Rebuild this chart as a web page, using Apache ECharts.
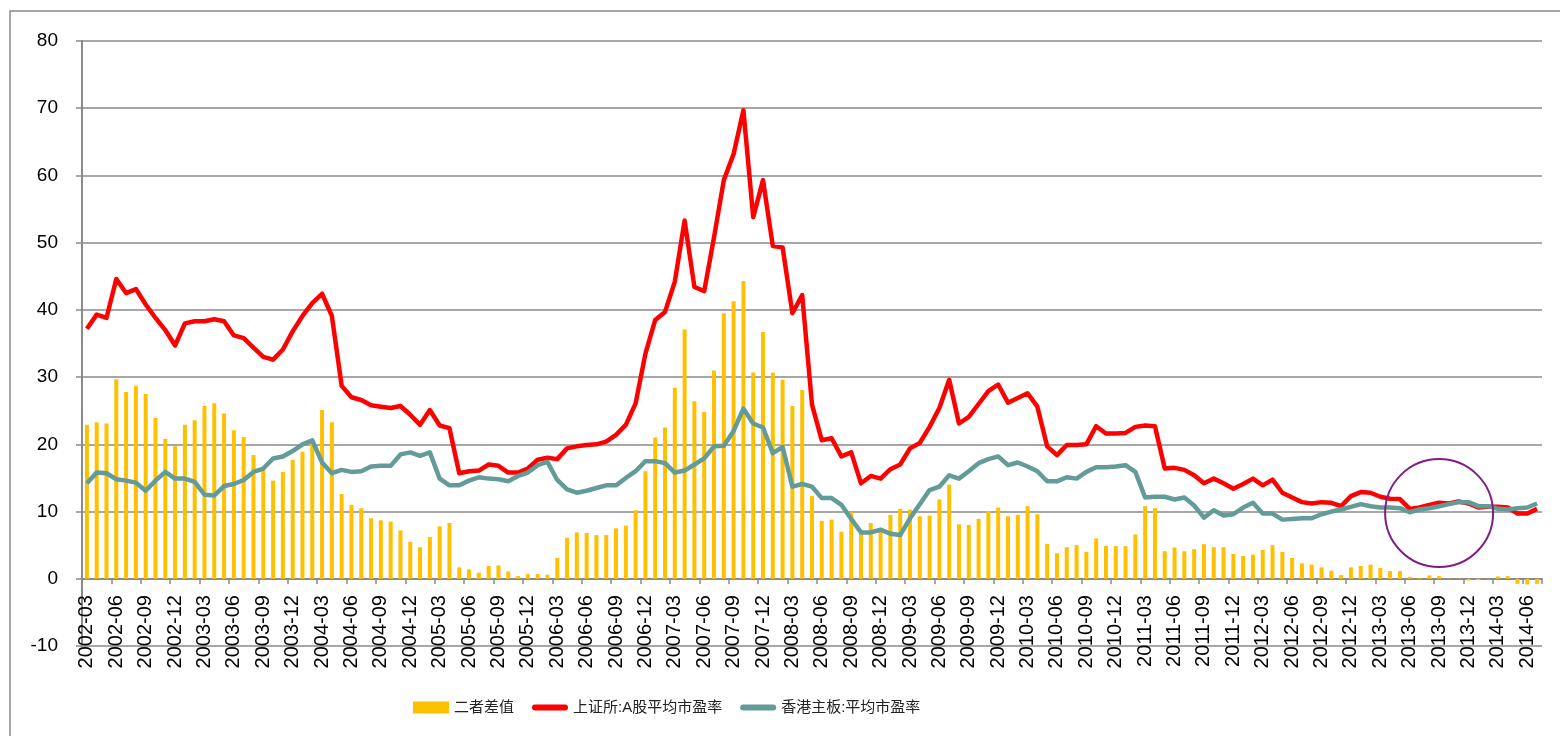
<!DOCTYPE html>
<html>
<head>
<meta charset="utf-8">
<script src="https://cdn.jsdelivr.net/npm/echarts@6/dist/echarts.min.js"></script>
<style>
  html, body { margin: 0; padding: 0; background: #fff; }
  #main { width: 1560px; height: 736px; }
</style>
</head>
<body>
<div id="main"></div>
<script>
// monthly, 2002-03 .. 2014-07
var months = [];
for (var y = 2002; y <= 2014; y++) {
  for (var m = 1; m <= 12; m++) {
    if (y == 2002 && m < 3) continue;
    if (y == 2014 && m > 7) continue;
    months.push(y + '-' + (m < 10 ? '0' + m : m));
  }
}

var yTicks = [-10, 0, 10, 20, 30, 40, 50, 60, 70, 80];

// 上证所:A股平均市盈率
var shPE = [
  37.2, 39.3, 38.8, 44.6, 42.5, 43.1, 40.8, 38.8, 37.0, 34.7, 38.0, 38.3,
  38.3, 38.6, 38.3, 36.2, 35.8, 34.4, 33.0, 32.6, 34.1, 36.8, 39.1, 41.0,
  42.4, 39.1, 28.7, 27.0, 26.6, 25.8, 25.6, 25.4, 25.7, 24.4, 22.9, 25.1,
  22.8, 22.4, 15.7, 16.0, 16.1, 17.0, 16.8, 15.8, 15.8, 16.4, 17.7, 18.0,
  17.8, 19.4, 19.7, 19.9, 20.0, 20.4, 21.4, 22.9, 26.1, 33.5, 38.5, 39.7,
  44.2, 53.3, 43.4, 42.8, 50.8, 59.3, 63.2, 69.7, 53.8, 59.3, 49.5, 49.3,
  39.5, 42.2, 25.9, 20.6, 20.9, 18.2, 18.8, 14.2, 15.3, 14.9, 16.3, 17.0,
  19.4, 20.2, 22.6, 25.4, 29.6, 23.1, 24.1, 26.0, 27.9, 28.9, 26.2, 26.9,
  27.6, 25.6, 19.7, 18.4, 19.9, 19.9, 20.0, 22.7, 21.6, 21.6, 21.7, 22.6,
  22.8, 22.7, 16.4, 16.5, 16.2, 15.4, 14.2, 14.9, 14.2, 13.4, 14.1, 14.9,
  13.9, 14.75, 12.8, 12.1, 11.4, 11.2, 11.4, 11.3, 10.8, 12.3, 12.9, 12.8,
  12.2, 11.9, 11.85, 10.4, 10.6, 11.0, 11.3, 11.2, 11.5, 11.2, 10.6, 10.7,
  10.7, 10.6, 9.7, 9.7, 10.4
];

// 香港主板:平均市盈率
var hkPE = [
  14.2, 15.8, 15.7, 14.8, 14.6, 14.3, 13.1, 14.6, 15.9, 14.9, 14.9, 14.4,
  12.5, 12.4, 13.8, 14.1, 14.7, 15.9, 16.4, 17.9, 18.2, 19.0, 20.0, 20.6,
  17.3, 15.7, 16.2, 15.9, 16.0, 16.7, 16.8, 16.8, 18.5, 18.8, 18.3, 18.8,
  14.9, 13.9, 13.9, 14.6, 15.1, 14.9, 14.8, 14.5, 15.3, 15.8, 16.9, 17.4,
  14.7, 13.3, 12.8, 13.1, 13.5, 13.9, 13.9, 15.0, 16.0, 17.5, 17.5, 17.2,
  15.8, 16.1, 17.0, 17.9, 19.7, 19.8, 22.0, 25.3, 23.1, 22.5, 18.7, 19.6,
  13.7, 14.1, 13.7, 12.0, 12.0, 11.0, 8.9, 6.9, 6.9, 7.3, 6.7, 6.5,
  9.0, 11.1, 13.2, 13.7, 15.4, 14.9, 16.0, 17.2, 17.8, 18.2, 16.9, 17.3,
  16.7, 16.0, 14.5, 14.5, 15.1, 14.9, 15.9, 16.6, 16.6, 16.7, 16.9, 15.9,
  12.1, 12.2, 12.2, 11.8, 12.1, 10.9, 9.1, 10.2, 9.4, 9.6, 10.6, 11.3,
  9.7, 9.7, 8.8, 8.9, 9.0, 9.0, 9.6, 10.0, 10.3, 10.7, 11.1, 10.8,
  10.6, 10.6, 10.5, 9.9, 10.3, 10.5, 10.8, 11.1, 11.4, 11.4, 10.8, 10.8,
  10.4, 10.3, 10.5, 10.6, 11.2
];

// 二者差值
var diffPE = [
  22.9, 23.3, 23.1, 29.7, 27.8, 28.7, 27.5, 23.9, 20.8, 19.7, 22.9, 23.6,
  25.7, 26.1, 24.6, 22.1, 21.1, 18.4, 16.5, 14.6, 15.9, 17.7, 18.9, 20.4,
  25.1, 23.3, 12.6, 11.0, 10.5, 9.0, 8.7, 8.5, 7.2, 5.5, 4.7, 6.2,
  7.8, 8.3, 1.7, 1.4, 0.9, 1.9, 2.0, 1.1, 0.4, 0.7, 0.7, 0.6,
  3.1, 6.1, 6.9, 6.8, 6.5, 6.5, 7.5, 7.9, 10.2, 16.0, 21.0, 22.5,
  28.4, 37.1, 26.4, 24.8, 31.0, 39.5, 41.3, 44.3, 30.7, 36.7, 30.7, 29.6,
  25.7, 28.1, 12.3, 8.6, 8.8, 7.0, 9.9, 7.2, 8.3, 7.4, 9.5, 10.4,
  10.3, 9.3, 9.4, 11.8, 14.0, 8.1, 8.0, 8.9, 10.1, 10.6, 9.3, 9.5,
  10.8, 9.6, 5.2, 3.8, 4.7, 5.0, 4.0, 6.0, 4.9, 4.85, 4.85, 6.6,
  10.8, 10.5, 4.1, 4.65, 4.1, 4.4, 5.15, 4.7, 4.7, 3.7, 3.4, 3.6,
  4.3, 5.0, 4.0, 3.1, 2.3, 2.1, 1.7, 1.2, 0.55, 1.7, 1.9, 2.1,
  1.6, 1.15, 1.15, 0.3, 0.1, 0.5, 0.4, 0.05, 0.05, -0.25, -0.2, -0.05,
  0.35, 0.4, -0.75, -0.85, -0.75
];

var seriesNames = ['二者差值', '上证所:A股平均市盈率', '香港主板:平均市盈率'];

// circled area on the chart
var circleAt = ['2013-09', 9.5];

var chart = echarts.init(document.getElementById('main'), null, { renderer: 'canvas' });
var gridColor = '#8a8a8a';
// thick rounded stroke used as legend mark for the two lines
var lineIcon = 'path://M3,0 L33,0 A3,3 0 0 1 33,6 L3,6 A3,3 0 0 1 3,0 Z';

var option = {
  animation: false,
  textStyle: { fontFamily: '"Liberation Sans", Arial, "Noto Sans CJK SC", sans-serif' },
  grid: { left: 82, right: 18, top: 41, bottom: 90, containLabel: false },
  legend: {
    left: 413,
    top: 700,
    padding: 0,
    itemGap: 18,
    itemWidth: 36,
    itemHeight: 12,
    symbolKeepAspect: true,
    textStyle: { fontSize: 15, color: '#222', fontFamily: '"Liberation Sans", "Noto Sans CJK SC", sans-serif' },
    data: [
      { name: seriesNames[0], icon: 'rect' },
      { name: seriesNames[1], icon: lineIcon },
      { name: seriesNames[2], icon: lineIcon }
    ]
  },
  xAxis: {
    type: 'category',
    data: months,
    boundaryGap: true,
    axisLine: { onZero: false, lineStyle: { color: gridColor, width: 2 } },
    axisTick: { show: true, interval: 2, length: 5, lineStyle: { color: gridColor, width: 1.5 } },
    axisLabel: { interval: 2, rotate: 90, fontSize: 20, color: '#000', margin: 16 },
    splitLine: { show: false }
  },
  yAxis: {
    type: 'value',
    min: yTicks[0],
    max: yTicks[yTicks.length - 1],
    interval: 10,
    axisLine: { show: true, lineStyle: { color: gridColor, width: 2 } },
    axisTick: { show: true, length: 6, lineStyle: { color: gridColor, width: 1.5 } },
    axisLabel: { fontSize: 19, color: '#000', margin: 24 },
    splitLine: { show: true, lineStyle: { color: gridColor, width: 1.5 } }
  },
  series: [
    {
      name: seriesNames[0],
      type: 'bar',
      data: diffPE,
      barWidth: 4,
      itemStyle: { color: '#FFC000' },
      z: 1
    },
    {
      name: seriesNames[1],
      type: 'line',
      data: shPE,
      symbol: 'none',
      lineStyle: { color: '#FF0000', width: 4.5, join: 'round' },
      itemStyle: { color: '#FF0000' },
      z: 3
    },
    {
      name: seriesNames[2],
      type: 'line',
      data: hkPE,
      symbol: 'none',
      lineStyle: { color: '#629B98', width: 4.5, join: 'round' },
      itemStyle: { color: '#629B98' },
      z: 4
    }
  ]
};

chart.setOption(option);

// move the category axis up to the zero line (Excel style)
var zeroY = chart.convertToPixel({ yAxisIndex: 0 }, 0);
var bottomY = chart.convertToPixel({ yAxisIndex: 0 }, yTicks[0]);
var c = chart.convertToPixel({ gridIndex: 0 }, circleAt);
chart.setOption({
  xAxis: { offset: zeroY - bottomY },
  graphic: [
    {
      type: 'rect',
      shape: { x: 10, y: 11, width: 1700, height: 900 },
      style: { fill: 'none', stroke: '#888', lineWidth: 1.5 },
      silent: true
    },
    {
      type: 'circle',
      shape: { cx: c[0], cy: c[1], r: 54 },
      style: { fill: 'none', stroke: '#7E1E86', lineWidth: 2 },
      z: 100,
      silent: true
    }
  ]
});
</script>
</body>
</html>
